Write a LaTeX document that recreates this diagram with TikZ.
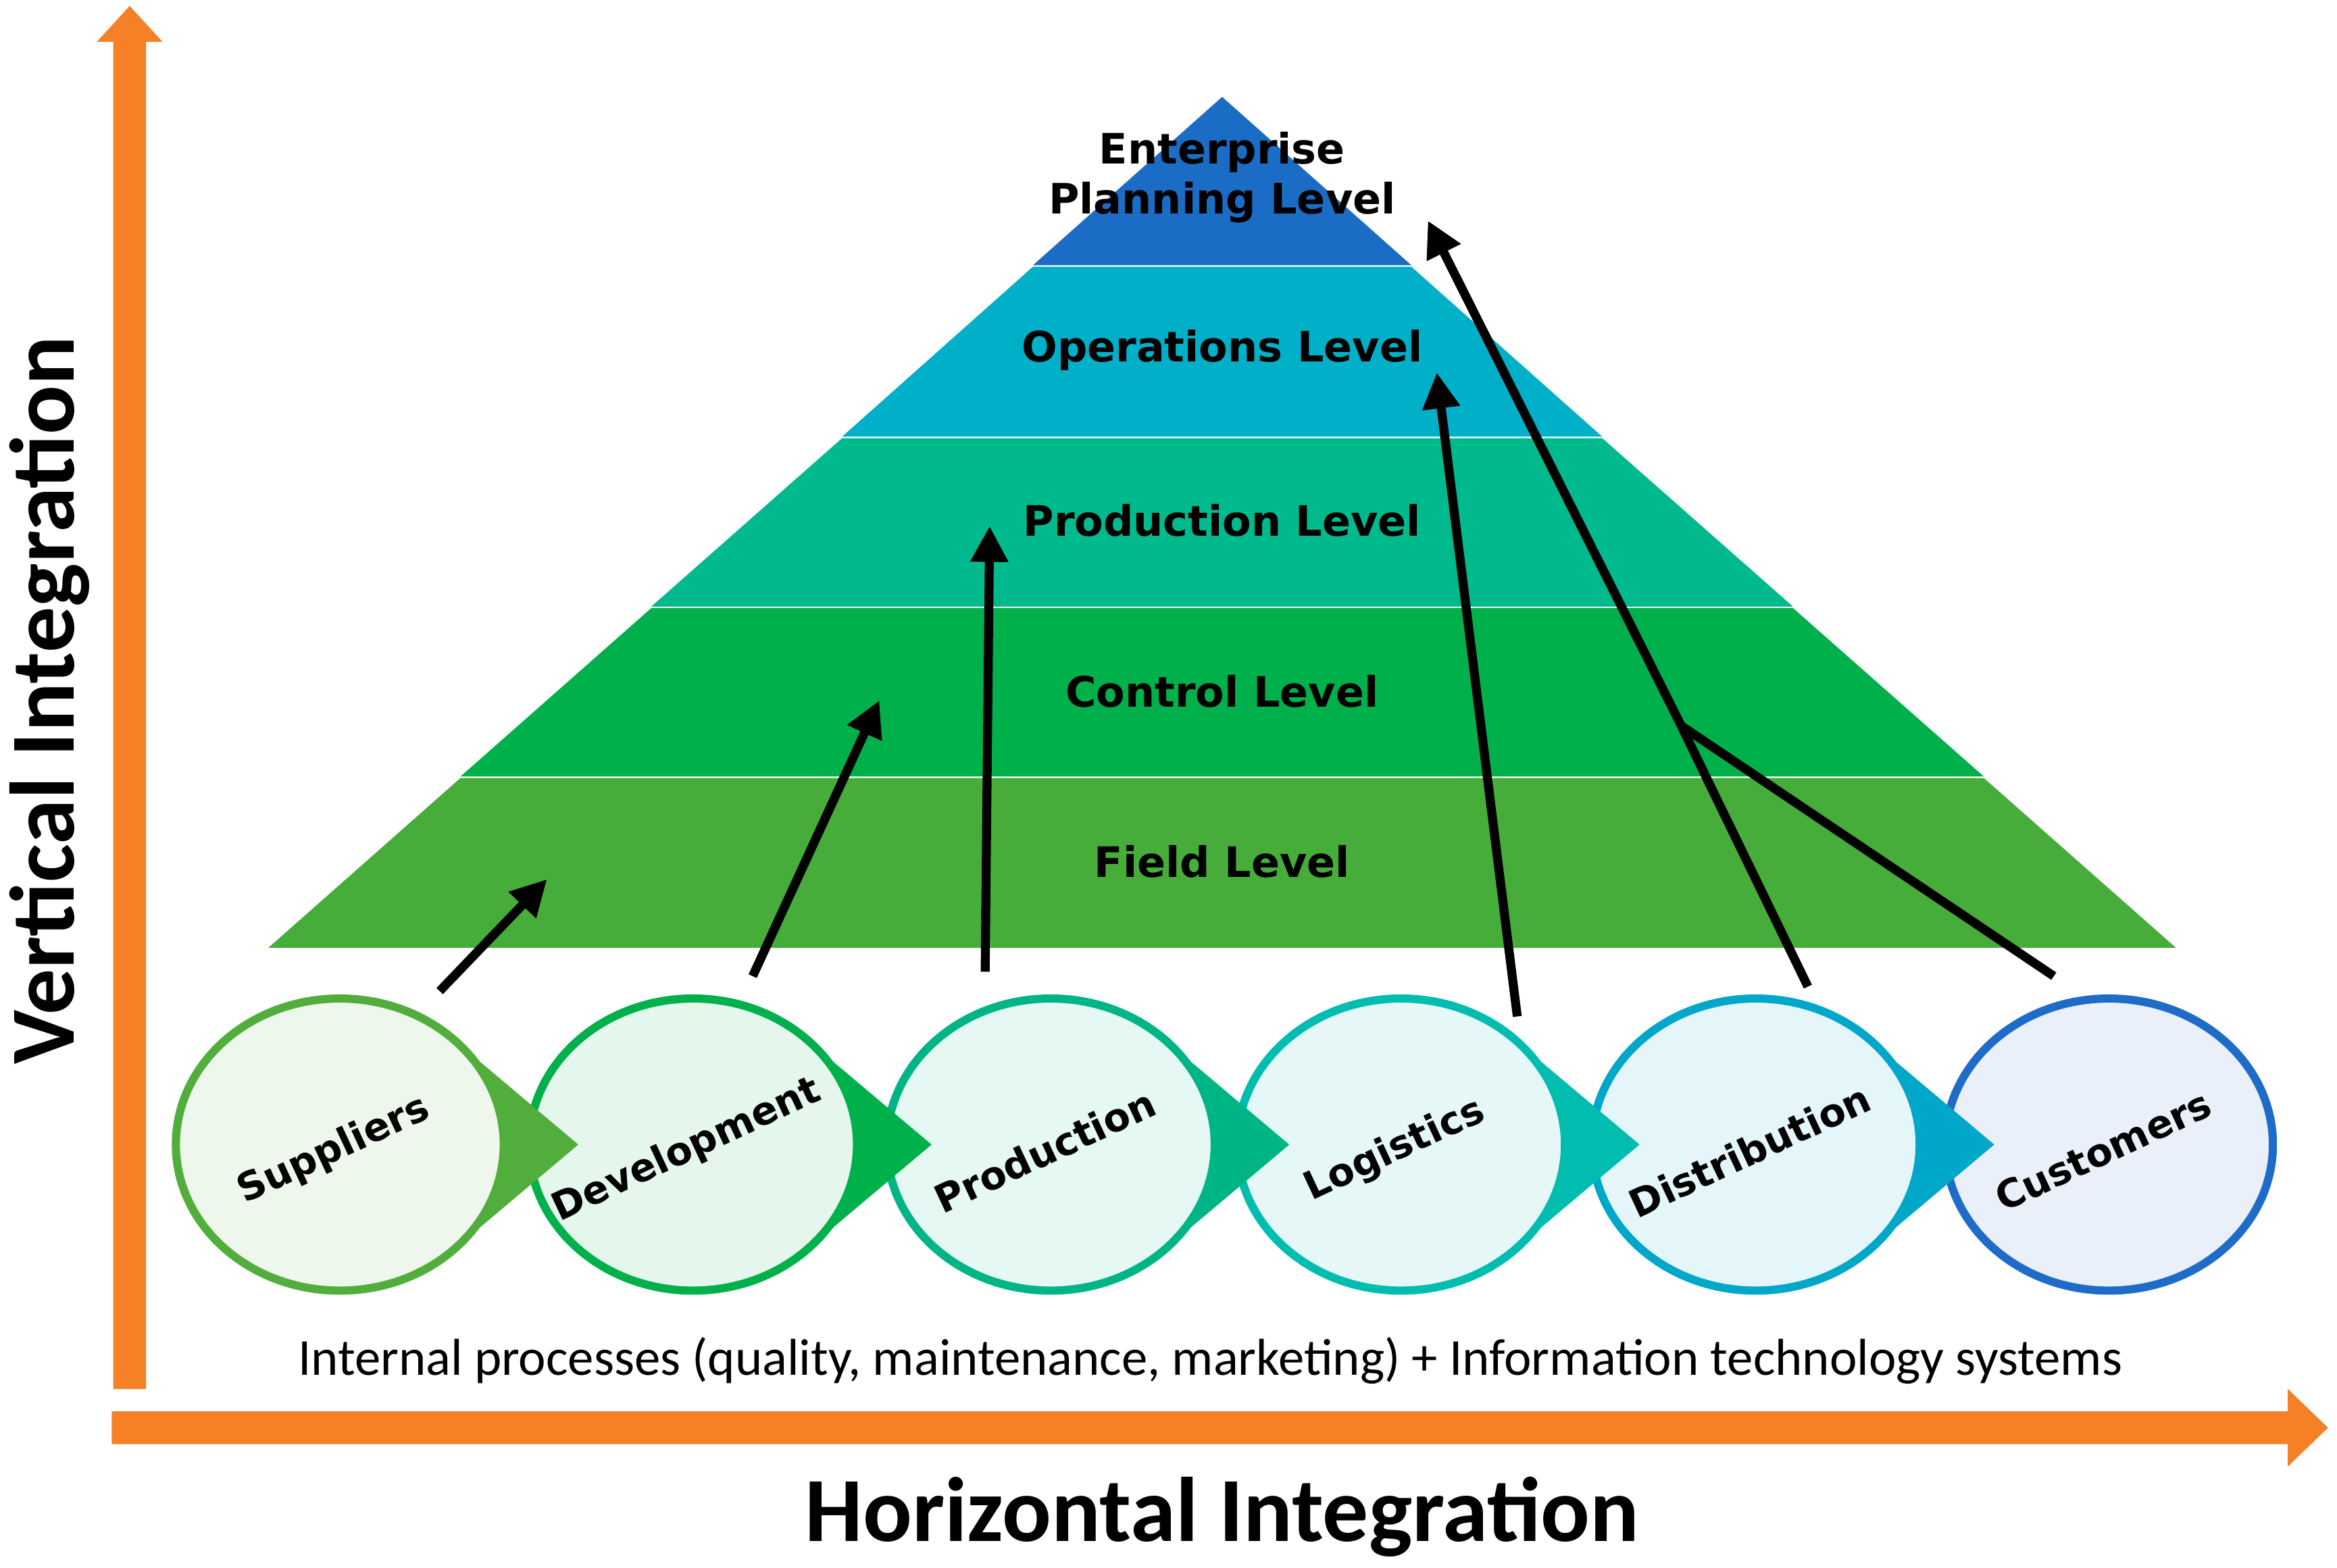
\documentclass[tikz,border=0pt]{standalone}
\usepackage{fontspec}
\setmainfont{DejaVu Sans}
\newfontfamily\carfont{Carlito}
\usetikzlibrary{arrows.meta,shapes.geometric}
\definecolor{orng}{HTML}{F58025}
\definecolor{lv1}{HTML}{1B6CC4}
\definecolor{lv2}{HTML}{00AFC8}
\definecolor{lv3}{HTML}{00B98C}
\definecolor{lv4}{HTML}{00B04A}
\definecolor{lv5}{HTML}{46AD3A}
\definecolor{c1}{HTML}{52AE3C}
\definecolor{c2}{HTML}{00B04A}
\definecolor{c3}{HTML}{00B585}
\definecolor{c4}{HTML}{00BDB0}
\definecolor{c5}{HTML}{00A7C9}
\definecolor{c6}{HTML}{1F6CC8}
\begin{document}
\begin{tikzpicture}[x=0.1mm,y=-0.1mm,
  lvl/.style={font=\fontsize{8}{9.5}\selectfont\bfseries,align=center},
  clab/.style={font=\fontsize{7.4}{9}\selectfont\bfseries,rotate=25},
  arr/.style={line width=0.6mm,-{Triangle[length=2.4mm,width=2.4mm]}},
  seg/.style={line width=0.6mm}]
\useasboundingbox (0,0) rectangle (1568,1052);
% axes
\fill[orng] (76,932) -- (76,28) -- (65,28) -- (87,4) -- (109,28) -- (98,28) -- (98,932) -- cycle;
\fill[orng] (75,947) -- (1535,947) -- (1535,932) -- (1562,958) -- (1535,984) -- (1535,969) -- (75,969) -- cycle;
% pyramid
\fill[lv1] (820,65) -- (947,178) -- (693,178) -- cycle;
\fill[lv2] (693,179) -- (947,179) -- (1075,293) -- (565,293) -- cycle;
\fill[lv3] (565,294) -- (1075,294) -- (1203,407) -- (437,407) -- cycle;
\fill[lv4] (437,408) -- (1203,408) -- (1331,521) -- (309,521) -- cycle;
\fill[lv5] (309,522) -- (1331,522) -- (1460,636) -- (180,636) -- cycle;
\node[lvl] (l1) at (820,119) {Enterprise\\Planning Level};
\node[lvl] (l2) at (820,235) {Operations Level};
\node[lvl] (l3) at (820,349) {Production Level};
\node[lvl] (l4) at (820,464) {Control Level};
\node[lvl] (l5) at (820,578) {Field Level};
% process ellipses
\foreach \x/\c in {228/c1,465/c2,705/c3,940/c4,1178/c5,1415/c6}{
  \draw[\c,line width=0.55mm,fill=\c!10] (\x,768) ellipse [x radius=110,y radius=98];
}
% pointer tips
\foreach \x/\c in {228/c1,465/c2,705/c3,940/c4,1178/c5}{
  \fill[\c] (\x+77.8,698.7) -- (\x+160,768) -- (\x+77.8,837.3) arc[start angle=45,end angle=-45,x radius=110,y radius=98] -- cycle;
}
\foreach \x/\t/\n in {228/Suppliers/p1,465/Development/p2,705/Production/p3,940/Logistics/p4,1178/Distribution/p5,1415/Customers/p6}{
  \node[clab] (\n) at (\x-4,772) {\t};
}
% arrows
\coordinate (a1s) at (295,665); \coordinate (a1e) at (367,590);
\coordinate (a2s) at (505,655); \coordinate (a2e) at (590,470);
\coordinate (a3s) at (661,652); \coordinate (a3e) at (664,353);
\coordinate (a4s) at (1018,682); \coordinate (a4e) at (964,250);
\coordinate (a5s) at (1213,662); \coordinate (j) at (1128,487); \coordinate (a5e) at (958,148);
\coordinate (a6s) at (1378,655);
\draw[arr] (a1s) -- (a1e);
\draw[arr] (a2s) -- (a2e);
\draw[arr] (a3s) -- (a3e);
\draw[arr] (a4s) -- (a4e);
\draw[seg] (a5s) -- (j);
\draw[seg] (a6s) -- (j);
\draw[arr] (j) -- (a5e);
% texts
\node[font=\carfont\fontsize{9.9}{12}\selectfont] (bt) at (812,913) {Internal processes (quality, maintenance, marketing) + Information technology systems};
\node[font=\carfont\fontsize{17.5}{21}\selectfont\bfseries] (hi) at (820,1018) {Horizontal Integration};
\node[font=\carfont\fontsize{17.5}{21}\selectfont\bfseries,rotate=90] (vi) at (33,470) {Vertical Integration};
\end{tikzpicture}
\end{document}
